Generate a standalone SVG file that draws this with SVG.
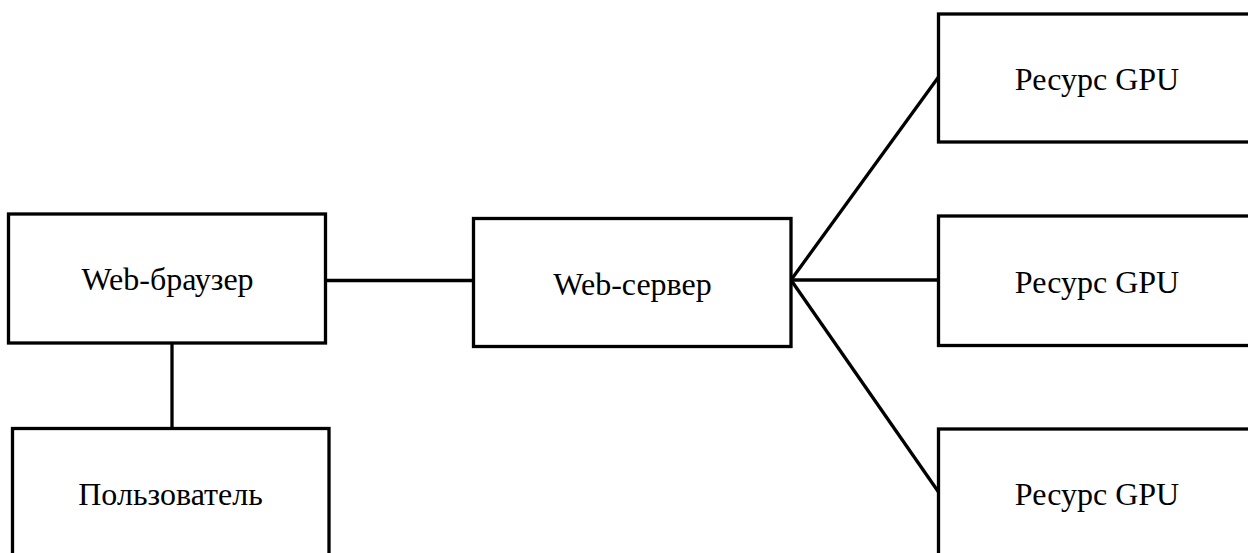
<svg xmlns="http://www.w3.org/2000/svg" width="1248" height="553" viewBox="0 0 1248 553">
<style>
.box{fill:#fff;stroke:#000;stroke-width:3.3}
.lbl{font-family:"Liberation Serif",serif;font-size:32px;fill:#000;text-anchor:middle}
.edge{stroke:#000;stroke-width:3.3;fill:none}
</style>
<rect width="1248" height="553" fill="#fff"/>
<g id="connectors">
<line class="edge" x1="326" y1="280.5" x2="473" y2="280.5"/>
<line class="edge" x1="172" y1="343" x2="172" y2="428"/>
<line class="edge" x1="791" y1="280" x2="938.5" y2="77"/>
<line class="edge" x1="791" y1="280" x2="938.5" y2="280"/>
<line class="edge" x1="791" y1="280" x2="938.5" y2="492"/>
</g>
<g id="browser"><rect class="box" x="8.5" y="214" width="317" height="129"/><text class="lbl" x="167.5" y="290">Web-браузер</text></g>
<g id="user"><rect class="box" x="12.5" y="428.5" width="316.5" height="140"/><text class="lbl" x="170.5" y="505">Пользователь</text></g>
<g id="server"><rect class="box" x="473.5" y="218.5" width="317.5" height="128"/><text class="lbl" x="632.5" y="295">Web-сервер</text></g>
<g id="gpu1"><rect class="box" x="938.5" y="14" width="318" height="128"/><text class="lbl" x="1097" y="90">Ресурс GPU</text></g>
<g id="gpu2"><rect class="box" x="938.5" y="216" width="318" height="129.5"/><text class="lbl" x="1097" y="292.5">Ресурс GPU</text></g>
<g id="gpu3"><rect class="box" x="938.5" y="429" width="318" height="140"/><text class="lbl" x="1097" y="505">Ресурс GPU</text></g>
</svg>
